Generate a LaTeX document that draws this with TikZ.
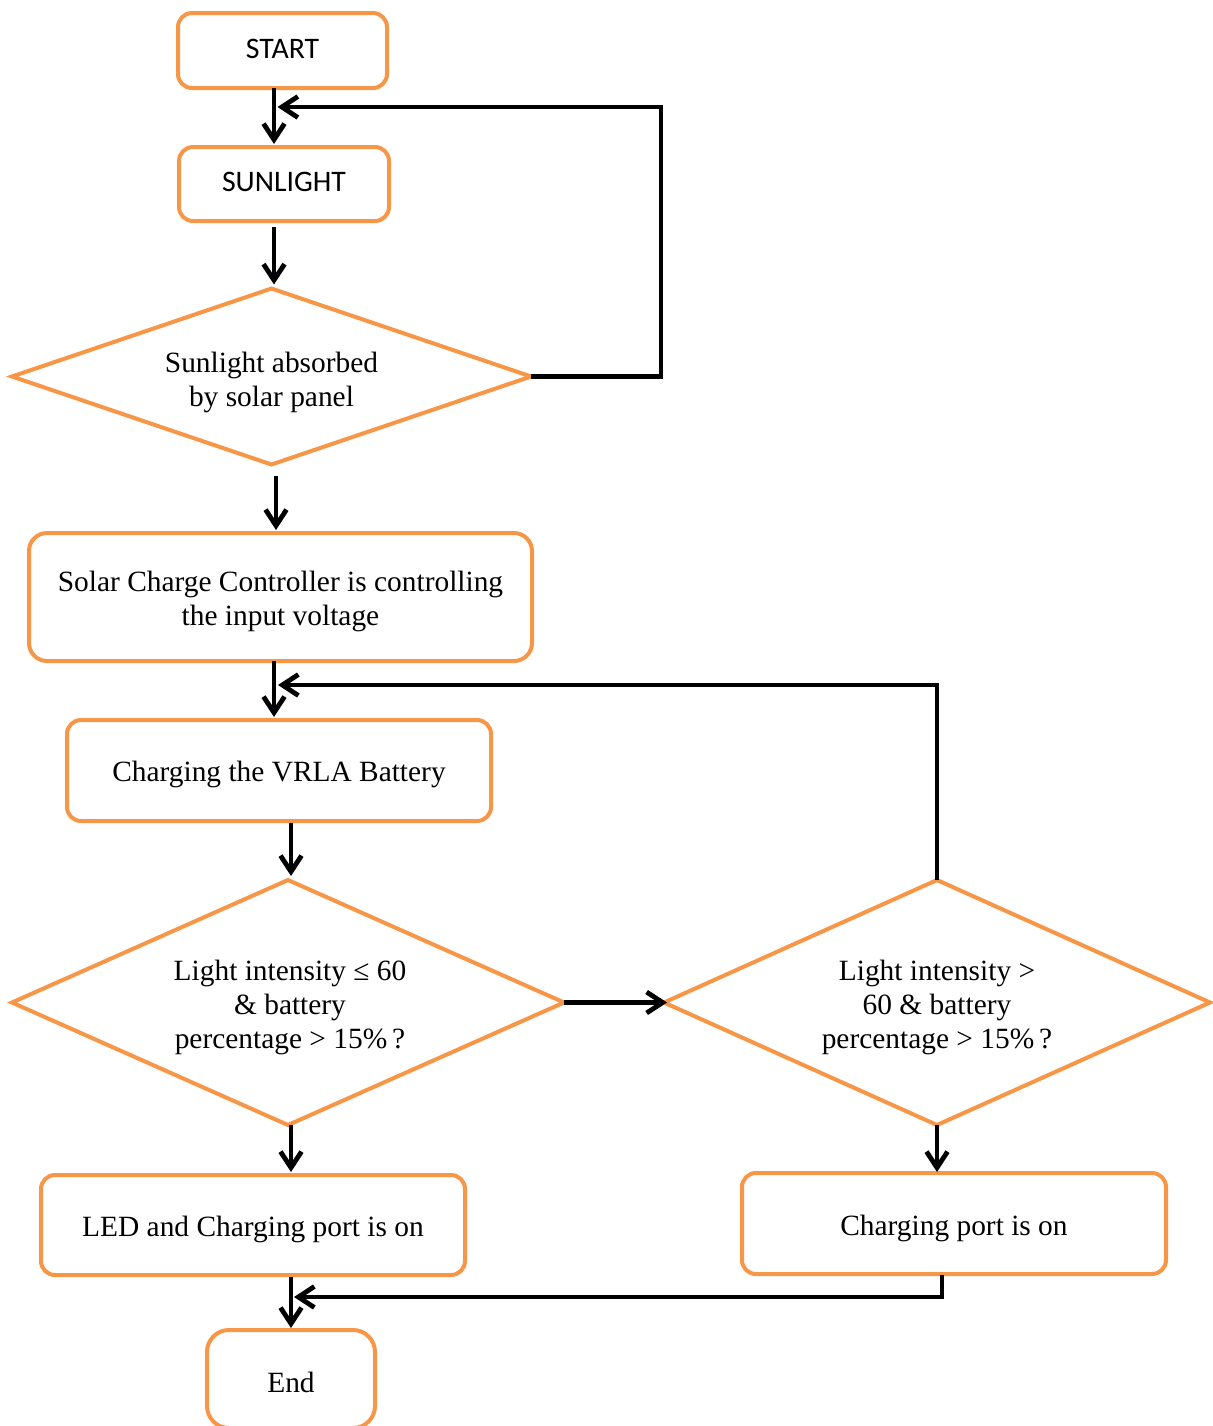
\documentclass[tikz,border=0pt]{standalone}
\usepackage{fontspec}
\setmainfont{Liberation Serif}
\newfontfamily\calib{Carlito}
\usetikzlibrary{shapes.geometric,arrows.meta,calc}
\definecolor{orng}{HTML}{F79646}
\begin{document}
\begin{tikzpicture}[x=0.5pt,y=-0.5pt,
  every node/.style={inner sep=0pt,outer sep=0pt,align=center},
  box/.style={draw=orng,line width=2pt,rounded corners=7pt,fill=white},
  dia/.style={diamond,draw=orng,line width=2pt,fill=white},
  txt/.style={font=\fontsize{14.7}{17}\selectfont},
  stxt/.style={font=\calib\fontsize{14.9}{17}\selectfont},
  arr/.style={draw=black,line width=2.4pt,-{Straight Barb[length=8pt,width=10.5pt,line width=2.4pt]}}]
\useasboundingbox (0,0) rectangle (1212,1426);
% shapes
\node[box,minimum width=104.5pt,minimum height=37.5pt] (start) at (282.5,50.5) {};
\node[box,minimum width=105pt,minimum height=37pt] (sun) at (284,184) {};
\node[dia,shape aspect=2.95,minimum width=259.5pt,minimum height=88pt] (d1) at (271.5,376.5) {};
\node[box,minimum width=251.5pt,minimum height=64pt,rounded corners=9pt] (scc) at (280.5,597) {};
\node[box,minimum width=212pt,minimum height=50.5pt] (vrla) at (279,770.5) {};
\node[dia,shape aspect=2.25,minimum width=276pt,minimum height=122.5pt] (d2) at (288,1002.5) {};
\node[dia,shape aspect=2.23,minimum width=273pt,minimum height=122.5pt] (d3) at (937,1002.5) {};
\node[box,minimum width=212pt,minimum height=50pt] (led) at (253,1225) {};
\node[box,minimum width=212pt,minimum height=50.5pt] (cport) at (954,1223.5) {};
\node[box,minimum width=84pt,minimum height=49pt,rounded corners=11pt] (end) at (291,1379) {};
% texts
\node[stxt] (startt) at (282.5,49) {START};
\node[stxt] (sunt) at (284,182) {SUNLIGHT};
\node[txt] (d1t) at ($(d1)+(0,6)$) {Sunlight absorbed\\by solar panel};
\node[txt] (scct) at ($(scc)+(0,4)$) {Solar Charge Controller is controlling\\the input voltage};
\node[txt] (vrlat) at ($(vrla)+(0,4)$) {Charging the VRLA Battery};
\node[txt] (d2t) at ($(d2)+(2,5)$) {Light intensity ≤ 60\\\& battery\\percentage > 15\%\,?};
\node[txt] (d3t) at ($(d3)+(0,5)$) {Light intensity >\\60 \& battery\\percentage > 15\%\,?};
\node[txt] (ledt) at ($(led)+(0,4)$) {LED and Charging port is on};
\node[txt] (cportt) at ($(cport)+(0,5)$) {Charging port is on};
\node[txt] (endt) at ($(end)+(0,3)$) {End};
% connectors
\draw[arr] ($(start.south)+(-8.5,0)$) -- ($(sun.north)+(-10,-3)$);
\draw[arr] (d1.east) -- ++(130,0) |- ($(start.south)+(-5,19)$);
\draw[arr] ($(sun.south)+(-10,6)$) -- ($(d1.north)+(2.5,-4)$);
\draw[arr] ($(d1.south)+(4.5,11)$) -- ($(scc.north)+(-4.5,-3)$);
\draw[arr] ($(scc.south)+(-6.5,0)$) -- ($(vrla.north)+(-5,-3)$);
\draw[arr] (d3.north) |- ($(vrla.north)+(-1,-35)$);
\draw[arr] ($(vrla.south)+(12,2)$) -- ($(d2.north)+(3,-4)$);
\draw[arr] (d2.east) -- ($(d3.west)+(3,0)$);
\draw[arr] ($(d2.south)+(3,0)$) -- ($(led.north)+(38,-3)$);
\draw[arr] (d3.south) -- ($(cport.north)+(-17,-1)$);
\draw[arr] ($(led.south)+(38,2)$) -- ($(end.north)+(0,-2)$);
\draw[arr] ($(cport.south)+(-12,1)$) |- ($(end.north)+(3,-33)$);
\end{tikzpicture}
\end{document}
